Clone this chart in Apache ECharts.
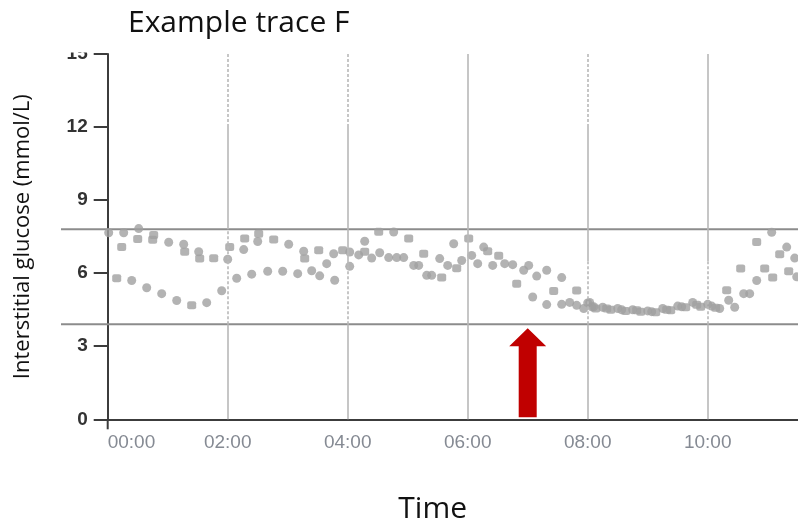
<!DOCTYPE html>
<html>
<head>
<meta charset="utf-8">
<script src="https://cdn.jsdelivr.net/npm/echarts@6/dist/echarts.min.js"></script>
<style>
  html, body { margin: 0; padding: 0; background: #fff; overflow: hidden; }
  #chart { width: 798px; height: 521px; }
</style>
</head>
<body>
<div id="chart"></div>
<script>
// Sensor readings, time in minutes after midnight, glucose in mmol/L
const circleTimes = [1, 16, 31, 61, 76, 91, 120, 136, 150, 181, 196, 219, 226, 242, 242, 251, 257, 264, 272, 281, 286, 289, 296, 306, 311, 319, 324, 332, 340, 346, 354, 364, 370, 376, 385, 397, 405, 416, 421, 425, 429, 439, 439, 454, 454, 462, 469, 476, 482, 486,
  24, 39, 54, 69, 99, 114, 129, 144, 160, 175, 190, 204, 212, 227,
  480, 495, 510, 525, 540, 555, 570, 585, 600, 484, 514, 544, 574, 604,
  612, 621, 627, 636, 642, 649, 664, 679, 687, 689];
const circleValues = [7.66, 7.66, 7.83, 7.27, 7.19, 6.88, 6.57, 6.97, 7.30, 7.19, 6.90, 6.39, 6.80, 6.87, 6.28, 6.75, 7.31, 6.62, 6.84, 6.64, 7.69, 6.64, 6.64, 6.32, 6.32, 5.91, 5.91, 6.60, 6.32, 7.21, 6.52, 6.73, 6.39, 7.07, 6.32, 6.39, 6.35, 6.12, 6.32, 5.02, 5.88, 6.12, 4.71, 5.82, 4.72, 4.80, 4.68, 4.55, 4.80, 4.62,
  5.70, 5.40, 5.16, 4.88, 4.79, 5.28, 5.79, 5.96, 6.08, 6.08, 5.98, 6.10, 5.89, 5.71,
  4.78, 4.60, 4.55, 4.50, 4.45, 4.55, 4.65, 4.80, 4.72, 4.62, 4.50, 4.42, 4.62, 4.65,
  4.55, 4.89, 4.60, 5.16, 5.16, 5.70, 7.68, 7.07, 6.62, 5.85];

const squareTimes = [30, 14, 46, 45, 77, 92, 106, 122, 137, 151, 166, 197, 211, 235, 257, 271, 301, 316, 334, 349, 361, 380, 391, 409, 446, 469,
  9, 84,
  488, 503, 518, 533, 548, 563, 578, 593, 608, 499, 529, 559, 589,
  619, 633, 649, 657, 665, 672, 681];
const squareValues = [7.40, 7.07, 7.57, 7.37, 6.88, 6.60, 6.61, 7.07, 7.42, 7.62, 7.38, 6.60, 6.94, 6.94, 6.88, 7.70, 7.42, 6.80, 5.82, 6.20, 7.42, 6.90, 6.72, 5.57, 5.27, 5.29,
  5.79, 4.68,
  4.55, 4.50, 4.45, 4.42, 4.40, 4.48, 4.60, 4.62, 4.58, 4.55, 4.48, 4.50, 4.70,
  5.30, 6.19, 7.28, 6.19, 5.82, 6.78, 6.08];

// Target range bounds (mmol/L) and the marked event time (minutes)
const targetRange = [3.9, 7.8];
const eventTime = 420;

// Axis ticks
const xTickMinutes = [0, 120, 240, 360, 480, 600];
const yTickValues = [0, 3, 6, 9, 12, 15];

// Hour guides drawn as pieces: [minute, fromValue, toValue, dashed]
const hourGuides = [
  [120, 12, 15, true], [120, 7.8, 12, false], [120, 3.9, 7.8, true], [120, 0, 3.9, false],
  [240, 12, 15, true], [240, 6.3, 12, false], [240, 3.9, 6.3, true], [240, 0, 3.9, false],
  [360, 0, 15, false],
  [480, 12, 15, true], [480, 6.5, 12, false], [480, 3.9, 6.5, true], [480, 0, 3.9, false],
  [600, 6.5, 15, false], [600, 3.9, 6.5, true], [600, 0, 3.9, false]
];

const pad = n => (n < 10 ? '0' : '') + n;
const fmtTime = m => pad(Math.floor(m / 60)) + ':' + pad(m % 60);

const zip = (xs, ys) => xs.map((x, i) => [x, ys[i]]);
const dotColor = '#a0a0a0';
const textFont = 'Open Sans';

const chart = echarts.init(document.getElementById('chart'), null, { renderer: 'canvas' });

const option = {
  animation: false,
  backgroundColor: '#fff',
  title: {
    text: 'Example trace F',
    left: 123, top: 3,
    textStyle: { fontFamily: textFont, fontWeight: 'normal', fontSize: 30, color: '#111' }
  },
  grid: { left: 107.7, right: 0.3, top: 54, bottom: 101.7, containLabel: false, outerBoundsMode: 'none' },
  xAxis: {
    type: 'value', min: 0, max: 690, interval: 120,
    name: 'Time', nameLocation: 'middle', nameGap: 75,
    nameTextStyle: { fontFamily: textFont, fontSize: 30, color: '#111', padding: [0, 0, 0, -40] },
    axisLine: { show: true, lineStyle: { color: '#3c3c3c', width: 2 } },
    axisTick: { show: false },
    splitLine: { show: false },
    axisLabel: {
      color: '#858a93', fontFamily: 'Liberation Sans, Arial', fontSize: 19, margin: 14,
      alignMinLabel: 'left', showMaxLabel: false,
      formatter: v => (xTickMinutes.indexOf(v) >= 0 ? fmtTime(v) : '')
    }
  },
  yAxis: {
    type: 'value', min: 0, max: 15, interval: 3,
    name: 'Interstitial glucose (mmol/L)', nameLocation: 'middle', nameGap: 74, nameRotate: 90,
    nameTextStyle: { fontFamily: textFont, fontSize: 22, color: '#111' },
    axisLine: { show: true, lineStyle: { color: '#3c3c3c', width: 2 } },
    axisTick: { show: true, length: 14, lineStyle: { color: '#3c3c3c', width: 2 } },
    splitLine: { show: false },
    axisLabel: {
      color: '#333', fontFamily: 'Liberation Sans, Arial', fontWeight: 'bold', fontSize: 19, margin: 20,
      formatter: v => (yTickValues.indexOf(v) >= 0 ? String(v) : '')
    }
  },
  series: [
    {
      name: 'guides', type: 'line', data: [], z: 1, silent: true,
      markLine: {
        silent: true, symbol: 'none', animation: false,
        label: { show: false },
        data: hourGuides.map(g => [
          { coord: [g[0], g[1]], lineStyle: { color: '#b8b8b8', width: 1.6, type: g[3] ? [3, 2] : 'solid' } },
          { coord: [g[0], g[2]] }
        ])
      }
    },
    {
      name: 'readings-a', type: 'scatter', z: 3,
      symbol: 'circle', symbolSize: 9,
      itemStyle: { color: dotColor },
      data: zip(circleTimes, circleValues)
    },
    {
      name: 'readings-b', type: 'scatter', z: 3,
      symbol: 'roundRect', symbolSize: [9, 8],
      itemStyle: { color: dotColor },
      data: zip(squareTimes, squareValues)
    }
  ]
};

chart.setOption(option);

// Target range lines, the event arrow and a mask over the clipped top label
const graphics = [];
targetRange.forEach(v => {
  const y = chart.convertToPixel({ yAxisIndex: 0 }, v);
  graphics.push({
    type: 'line', z: 2, silent: true,
    shape: { x1: 61, y1: y, x2: 798, y2: y },
    style: { stroke: '#8c8c8c', lineWidth: 2 }
  });
});

const ax = chart.convertToPixel({ xAxisIndex: 0 }, eventTime);
const yTip = chart.convertToPixel({ yAxisIndex: 0 }, 3.74);
const yHead = chart.convertToPixel({ yAxisIndex: 0 }, 3.0);
const yBase = chart.convertToPixel({ yAxisIndex: 0 }, 0.08);
const headHalf = 18.5, shaftHalf = 9;
graphics.push({
  type: 'polygon', z: 10, silent: true,
  shape: {
    points: [
      [ax, yTip], [ax + headHalf, yHead], [ax + shaftHalf, yHead], [ax + shaftHalf, yBase],
      [ax - shaftHalf, yBase], [ax - shaftHalf, yHead], [ax - headHalf, yHead]
    ]
  },
  style: { fill: '#c00000' }
});

// y axis line runs a little past the origin
const ox = chart.convertToPixel({ xAxisIndex: 0 }, 0);
const oy = chart.convertToPixel({ yAxisIndex: 0 }, 0);
graphics.push({
  type: 'line', z: 5, silent: true,
  shape: { x1: ox, y1: oy, x2: ox, y2: oy + 10 },
  style: { stroke: '#3c3c3c', lineWidth: 2 }
});

graphics.push({
  type: 'rect', z: 20, silent: true,
  shape: { x: 55, y: 0, width: 50, height: 52.5 },
  style: { fill: '#fff' }
});

chart.setOption({ graphic: graphics });
</script>
</body>
</html>
